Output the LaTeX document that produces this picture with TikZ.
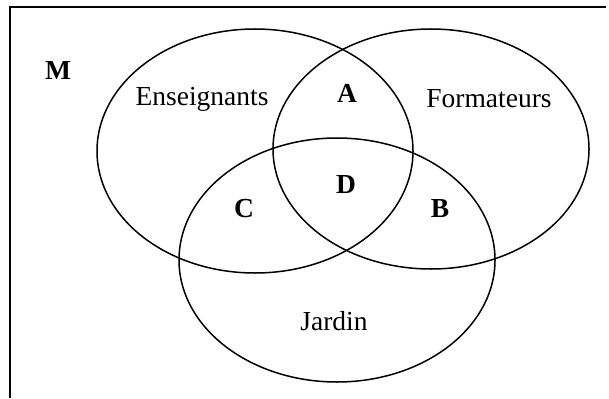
\documentclass[tikz,border=0pt]{standalone}
\usepackage{fontspec}
\setmainfont{Liberation Serif}
\begin{document}
\begin{tikzpicture}[x=1pt,y=-1pt,
  setline/.style={line width=1.5pt,black},
  lbl/.style={font=\fontsize{27.5}{33}\selectfont,inner sep=0pt},
  blbl/.style={font=\fontsize{27.5}{33}\selectfont\bfseries,inner sep=0pt}]
\useasboundingbox (0,0) rectangle (609,398);
% frame (top and left sides only)
\draw[setline] (10,398) -- (10,7) -- (606,7);
% sets
\draw[setline] (255,151) ellipse [x radius=158pt, y radius=122pt];
\draw[setline] (431,149) ellipse [x radius=158pt, y radius=120pt];
\draw[setline] (337,260) ellipse [x radius=158pt, y radius=122pt];
% labels
\node[blbl] (M) at (58,70) {M};
\node[lbl] (ens) at (202,99) {Enseignants};
\node[lbl] (for) at (489,99) {Formateurs};
\node[lbl] (jar) at (334,321) {Jardin};
\node[blbl] (A) at (347,93) {A};
\node[blbl] (D) at (346,185) {D};
\node[blbl] (C) at (244,209) {C};
\node[blbl] (B) at (440,209) {B};
\end{tikzpicture}
\end{document}
